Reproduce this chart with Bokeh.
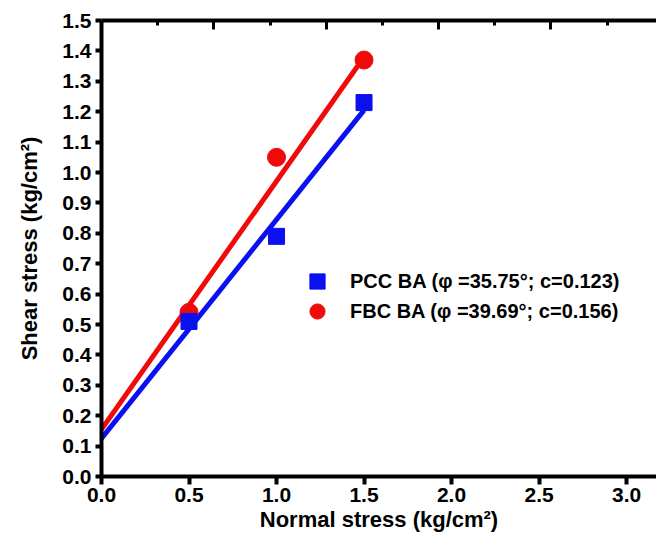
from bokeh.plotting import figure
from bokeh.models import Range1d, LinearAxis, Legend, LegendItem, FixedTicker, NumeralTickFormatter
from bokeh.embed import file_html
from bokeh.resources import INLINE

# ---- data ----
normal_stress = [0.5, 1.0, 1.5]
pcc_shear = [0.51, 0.79, 1.23]
fbc_shear = [0.54, 1.05, 1.37]
fit_x = [0.0, 1.5]
pcc_fit = [0.125, 1.205]
fbc_fit = [0.155, 1.38]
pcc_label = "PCC BA (\u03c6 =35.75\u00b0; c=0.123)"
fbc_label = "FBC BA (\u03c6 =39.69\u00b0; c=0.156)"
x_ticks = [0.0, 0.5, 1.0, 1.5, 2.0, 2.5, 3.0]
y_ticks = [0.0, 0.1, 0.2, 0.3, 0.4, 0.5, 0.6, 0.7, 0.8, 0.9, 1.0, 1.1, 1.2, 1.3, 1.4, 1.5]
top_major = [0, 1, 2, 3, 4]
top_minor = [0.5, 1.5, 2.5, 3.5, 4.5]
x_title = "Normal stress (kg/cm\u00b2)"
y_title = "Shear stress (kg/cm\u00b2)"

FONT = "Liberation Sans"
BLUE = "#0a10f0"
RED = "#f00a0a"

p = figure(width=656, height=543, output_backend="svg", toolbar_location=None,
           x_range=Range1d(0, 3.171), y_range=Range1d(0, 1.5),
           min_border_left=101, min_border_right=0, min_border_top=20, min_border_bottom=67,
           x_axis_location=None, y_axis_location=None)
p.outline_line_color = None
p.grid.visible = False
p.background_fill_color = "white"
p.border_fill_color = "white"

def style_axis(ax, ticks, ticklen):
    ax.ticker = FixedTicker(ticks=ticks)
    ax.formatter = NumeralTickFormatter(format="0.0")
    ax.axis_line_width = 4
    ax.axis_line_color = "black"
    ax.major_tick_line_width = 4
    ax.major_tick_line_color = "black"
    ax.major_tick_out = ticklen
    ax.major_tick_in = 0
    ax.minor_tick_line_color = None
    ax.major_label_text_font = FONT
    ax.major_label_text_font_style = "bold"
    ax.major_label_text_font_size = "21px"
    ax.major_label_text_color = "black"
    ax.axis_label_text_font = FONT
    ax.axis_label_text_font_style = "bold"
    ax.axis_label_text_font_size = "22px"
    ax.axis_label_text_color = "black"

xaxis = LinearAxis(axis_label=x_title)
style_axis(xaxis, x_ticks, 8)
xaxis.major_label_standoff = 3
xaxis.axis_label_standoff = 2
p.add_layout(xaxis, "below")

yaxis = LinearAxis(axis_label=y_title)
style_axis(yaxis, y_ticks, 6)
yaxis.major_label_standoff = 4
yaxis.axis_label_standoff = 17
p.add_layout(yaxis, "left")

p.extra_x_ranges = {"top": Range1d(0, 4.94)}
topaxis = LinearAxis(x_range_name="top")
topaxis.ticker = FixedTicker(ticks=top_major, minor_ticks=top_minor)
topaxis.major_label_overrides = {t: "" for t in top_major}
topaxis.axis_line_width = 4
topaxis.major_tick_line_width = 3
topaxis.major_tick_in = 9
topaxis.major_tick_out = 0
topaxis.minor_tick_line_width = 3
topaxis.minor_tick_in = 5
topaxis.minor_tick_out = 0
topaxis.major_label_standoff = 0
p.add_layout(topaxis, "above")

p.line(fit_x, pcc_fit, line_color=BLUE, line_width=5)
p.line(fit_x, fbc_fit, line_color=RED, line_width=5)
r_fbc = p.scatter(normal_stress, fbc_shear, marker="circle", size=18,
                  fill_color=RED, line_color=RED)
r_pcc = p.scatter(normal_stress, pcc_shear, marker="square", size=16,
                  fill_color=BLUE, line_color=BLUE)

def make_legend(label, renderer, loc):
    lg = Legend(items=[LegendItem(label=label, renderers=[renderer])], location=loc)
    lg.border_line_color = None
    lg.background_fill_alpha = 0
    lg.padding = 0
    lg.margin = 0
    lg.glyph_width = 38
    lg.glyph_height = 38
    lg.label_standoff = 14
    lg.label_text_font = FONT
    lg.label_text_font_style = "bold"
    lg.label_text_font_size = "20px"
    lg.label_text_color = "black"
    return lg

p.add_layout(make_legend(pcc_label, r_pcc, (197, 176)), "center")
p.add_layout(make_legend(fbc_label, r_fbc, (197, 146)), "center")

open("out.html", "w").write(file_html(p, INLINE))
